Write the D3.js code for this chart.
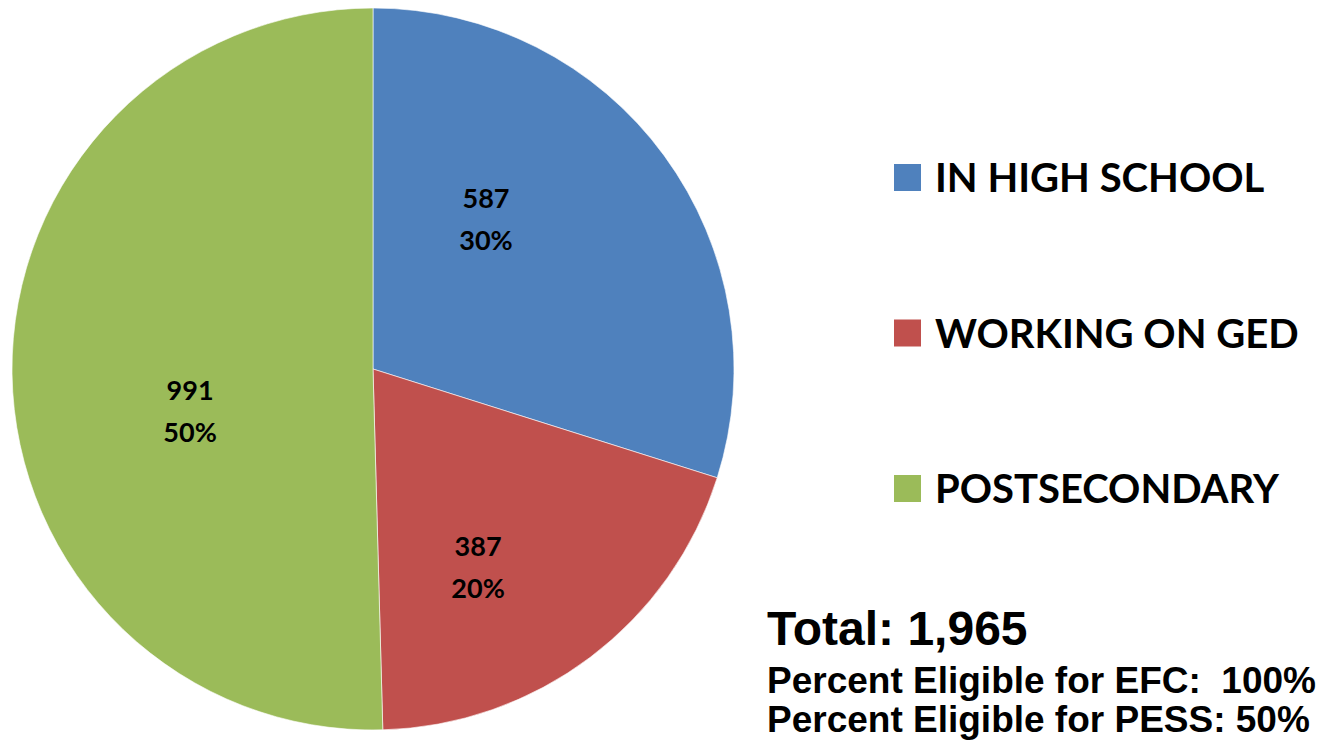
<!DOCTYPE html>
<html lang="en">
<head>
<meta charset="utf-8">
<script src="https://cdn.jsdelivr.net/npm/d3@7"></script>
<style>
    body { margin: 0; background: #fff; }
    svg { display: block; }
</style>
</head>
<body>
<div id="chart"></div>
<script>
    // chart data
    const categories = ["IN HIGH SCHOOL", "WORKING ON GED", "POSTSECONDARY"];
    const counts = [587, 387, 991];
    const percents = ["30%", "20%", "50%"];
    const colors = ["#4F81BD", "#C0504D", "#9BBB59"];
    const totalLine = "Total: 1,965";
    const notes = ["Percent Eligible for EFC:  100%", "Percent Eligible for PESS: 50%"];

    const width = 1322, height = 748;
    const cx = 373, cy = 369, radius = 361;

    // label placement (angle in degrees from 12 o'clock, radius fraction), like Excel best fit
    const labelPlace = [[37, 0.52], [152, 0.62], [257, 0.52]];

    const svg = d3.select("#chart").append("svg")
        .attr("width", width)
        .attr("height", height);

    const pie = d3.pie().sort(null).value(d => d);
    const arcs = pie(counts);
    const arc = d3.arc().innerRadius(0).outerRadius(radius);

    const g = svg.append("g").attr("transform", `translate(${cx},${cy})`);

    g.selectAll("path")
        .data(arcs)
        .enter().append("path")
        .attr("d", arc)
        .attr("fill", (d, i) => colors[i])
        .attr("stroke", "#fff")
        .attr("stroke-width", 0.6);

    // value / percent labels
    const lbl = g.selectAll("g.lbl")
        .data(arcs)
        .enter().append("g")
        .attr("class", "lbl")
        .attr("transform", (d, i) => {
            const p = d3.pointRadial(labelPlace[i][0] * Math.PI / 180, labelPlace[i][1] * radius);
            return `translate(${p[0]},${p[1]})`;
        })
        .style("font-family", "Lato, sans-serif")
        .style("font-weight", "bold")
        .style("font-size", "27px")
        .attr("text-anchor", "middle")
        .attr("fill", "#000");

    lbl.append("text").attr("y", -11).text((d, i) => counts[i]);
    lbl.append("text").attr("y", 31).text((d, i) => percents[i]);

    // legend
    const legendY = d3.scalePoint().domain(categories).range([178, 489]);
    const legend = svg.append("g").selectAll("g")
        .data(categories)
        .enter().append("g")
        .attr("transform", d => `translate(894,${legendY(d)})`);

    legend.append("rect")
        .attr("x", 0).attr("y", -14)
        .attr("width", 27).attr("height", 27)
        .attr("fill", (d, i) => colors[i]);

    legend.append("text")
        .attr("x", 41).attr("y", 14)
        .style("font-family", "Lato, sans-serif")
        .style("font-weight", "bold")
        .style("font-size", "40px")
        .text(d => d);

    // totals block
    svg.append("text")
        .attr("x", 767).attr("y", 645)
        .style("font-family", "'Liberation Sans', Arial, sans-serif")
        .style("font-weight", "bold")
        .style("font-size", "48px")
        .text(totalLine);

    svg.selectAll("text.note")
        .data(notes)
        .enter().append("text")
        .attr("class", "note")
        .attr("x", 767)
        .attr("y", (d, i) => 693 + i * 39)
        .attr("xml:space", "preserve")
        .style("white-space", "pre")
        .style("font-family", "'Liberation Sans', Arial, sans-serif")
        .style("font-weight", "bold")
        .style("font-size", "37px")
        .text(d => d);
</script>
</body>
</html>
